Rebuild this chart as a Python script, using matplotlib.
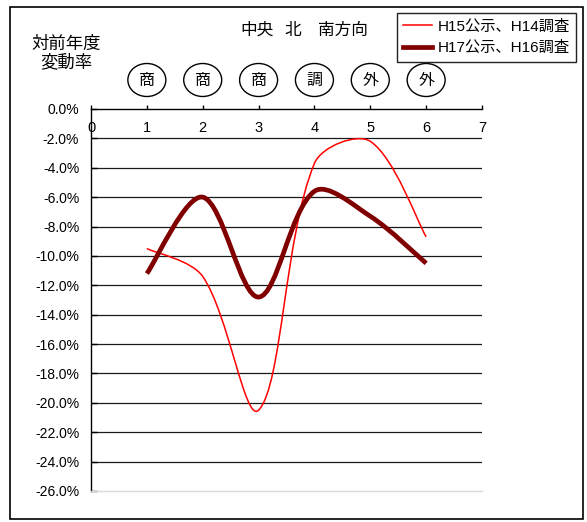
import matplotlib
matplotlib.use('Agg')
import math
import matplotlib.pyplot as plt
from matplotlib.path import Path
from matplotlib.patches import PathPatch, Ellipse, Rectangle
from matplotlib.lines import Line2D
import matplotlib.transforms as mtransforms

plt.rcParams['font.family'] = ['Liberation Sans', 'Noto Sans CJK JP']

# ---- data ----
categories = [1, 2, 3, 4, 5, 6]
h15_values = [-9.5, -11.4, -20.5, -3.7, -2.2, -8.7]     # H15公示、H14調査
h17_values = [-11.2, -6.0, -12.8, -5.6, -7.3, -10.5]    # H17公示、H16調査
series_labels = ['H15公示、H14調査', 'H17公示、H16調査']
use_marks = ['商', '商', '商', '調', '外', '外']
x_ticks = [0, 1, 2, 3, 4, 5, 6, 7]
y_ticks = [0, -2, -4, -6, -8, -10, -12, -14, -16, -18, -20, -22, -24, -26]
y_ticklabels = [f'{v:.1f}%' for v in y_ticks]
title_parts = ['中央', '北', '南方向']
ylabel_text = '対前年度\n変動率'

W, H = 587, 522
fig = plt.figure(figsize=(W / 100, H / 100), dpi=100)

# outer border
fig.patches.append(Rectangle((10 / W, 1 - 519 / H), 573 / W, 512 / H,
                             transform=fig.transFigure, fill=False,
                             edgecolor='black', lw=1.2))

ax = fig.add_axes([91 / W, 1 - 491 / H, 391 / W, 382 / H])
ax.set_xlim(0, 7)
ax.set_ylim(-26, 0)


def smooth_path(xs, ys):
    """Excel-like smoothed line: Bezier segments with tangents weighted by
    on-screen segment lengths."""
    pts = list(zip(xs, ys))
    disp = ax.transData.transform(pts)
    n = len(pts)

    def dist(i, j):
        return math.hypot(disp[j][0] - disp[i][0], disp[j][1] - disp[i][1])

    verts = [pts[0]]
    codes = [Path.MOVETO]
    for i in range(n - 1):
        a = i - 1 if i > 0 else i
        d = i + 2 if i + 2 < n else i + 1
        p1, p2 = pts[i], pts[i + 1]
        p0, p3 = pts[a], pts[d]
        dseg = dist(i, i + 1)
        # outgoing control at p1
        dprev = dist(a, i)
        if a == i:
            k1 = 1 / 6
        else:
            k1 = (1 / 3) * dseg / (dprev + dseg)
        c1 = (p1[0] + (p2[0] - p0[0]) * k1, p1[1] + (p2[1] - p0[1]) * k1)
        dnext = dist(i + 1, d)
        if d == i + 1:
            k2 = 1 / 6
        else:
            k2 = (1 / 3) * dseg / (dseg + dnext)
        c2 = (p2[0] - (p3[0] - p1[0]) * k2, p2[1] - (p3[1] - p1[1]) * k2)
        verts += [c1, c2, p2]
        codes += [Path.CURVE4] * 3
    return Path(verts, codes)


# gridlines
ax.hlines(y_ticks[1:-1], 0, 7, colors='#1a1a1a', lw=0.9, zorder=1)

ax.add_patch(PathPatch(smooth_path(categories, h15_values), facecolor='none',
                       edgecolor='#ff0000', lw=1.1, zorder=3, capstyle='butt'))
ax.add_patch(PathPatch(smooth_path(categories, h17_values), facecolor='none',
                       edgecolor='#800000', lw=3.4, zorder=4, capstyle='butt'))

# spines
ax.spines['right'].set_visible(False)
ax.spines['left'].set_color('black')
ax.spines['top'].set_color('black')
ax.spines['bottom'].set_color('#d9d9d9')
for s in ['left', 'top', 'bottom']:
    ax.spines[s].set_linewidth(1.0)

ax.set_yticks(y_ticks)
ax.set_yticklabels(y_ticklabels)
ax.tick_params(axis='y', direction='in', length=4, width=1, pad=8.5,
               labelsize=10)

ax.xaxis.tick_top()
ax.set_xticks(x_ticks)
ax.set_xticklabels([str(v) for v in x_ticks])
ax.tick_params(axis='x', direction='out', length=3, width=1, pad=-22,
               labelsize=10.5)

# circled marks
blend = mtransforms.blended_transform_factory(ax.transData, ax.transAxes)
for xc, m in zip(categories, use_marks):
    ax.add_patch(Ellipse((xc, 1 + 29 / 382), 38 / (391 / 7), 33 / 382,
                         transform=blend, facecolor='white',
                         edgecolor='black', lw=1.0, clip_on=False))
    ax.text(xc, 1 + 29 / 382, m, transform=blend, ha='center', va='center',
            fontsize=11.5, family=['Noto Sans CJK JP'], clip_on=False)

# title pieces
for cx, t in zip([256.5, 292.5, 343], title_parts):
    fig.text(cx / W, 1 - 30 / H, t, ha='center', va='center', fontsize=12,
             family=['Noto Sans CJK JP'])

fig.text(66 / W, 1 - 53 / H, ylabel_text, ha='center', va='center',
         fontsize=12.5, family=['Noto Sans CJK JP'], linespacing=1.05)

handles = [Line2D([], [], color='#ff0000', lw=1.1),
           Line2D([], [], color='#800000', lw=3.4)]
leg = fig.legend(handles, series_labels, loc='upper left',
                 bbox_to_anchor=(397 / W, 1 - 13 / H), fontsize=11,
                 frameon=True, fancybox=False, edgecolor='#222222',
                 framealpha=1, borderpad=0.42, labelspacing=0.5,
                 handlelength=1.9, handletextpad=0.35, borderaxespad=0)
leg.get_frame().set_linewidth(1.0)

fig.savefig('out.png', dpi=100)
